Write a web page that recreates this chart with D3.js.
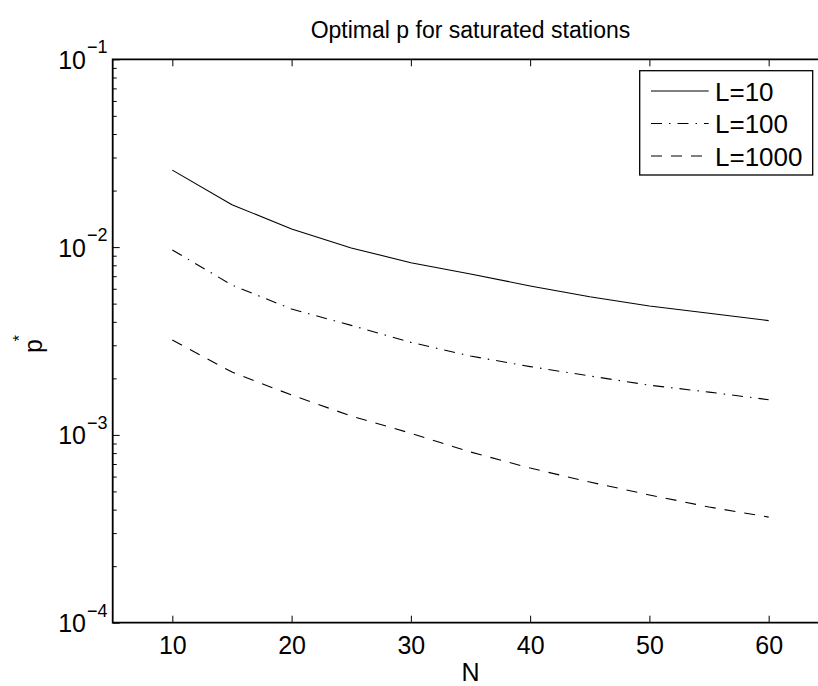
<!DOCTYPE html>
<html>
<head>
<meta charset="utf-8">
<script src="https://cdn.jsdelivr.net/npm/d3@7"></script>
<style>
  body { margin: 0; background: #fff; }
  svg { font-family: "Liberation Sans", Arial, Helvetica, sans-serif; }
</style>
</head>
<body>
<div id="svg-container"></div>
<script>
////////////////////////////////////////////////////////////////////
////////////////////////////  Data  ////////////////////////////////
const nValues = [10, 15, 20, 25, 30, 35, 40, 45, 50, 55, 60];
const pL10 = [0.0257, 0.0168, 0.0125, 0.0099, 0.00826, 0.00719, 0.00621, 0.00544, 0.00486, 0.00444, 0.00406];
const pL100 = [0.00965, 0.00628, 0.00468, 0.00383, 0.00311, 0.00263, 0.00231, 0.00206, 0.00184, 0.00169, 0.00154];
const pL1000 = [0.0032, 0.00216, 0.00163, 0.00126, 0.00102, 0.000811, 0.000666, 0.000561, 0.000479, 0.000413, 0.000365];
const seriesNames = ["L=10", "L=100", "L=1000"];
const xTicks = [10, 20, 30, 40, 50, 60];
const yTicks = [1e-4, 1e-3, 1e-2, 1e-1];
const yTickExp = ["−4", "−3", "−2", "−1"];

////////////////////////////////////////////////////////////////////
////////////////////////////  Init  ///////////////////////////////
const width = 818;
const height = 686;
const plot = { left: 112.7, right: 828.3, top: 59.3, bottom: 622.7 };

const svg = d3.select("#svg-container").append("svg")
  .attr("width", width).attr("height", height);

const xScale = d3.scaleLinear().domain([5, 65]).range([plot.left, plot.right]);
const yScale = d3.scaleLog().domain([1e-4, 1e-1]).range([plot.bottom, plot.top]);

const line = d3.line()
  .x((d) => xScale(d.n))
  .y((d) => yScale(d.p));

const series = [pL10, pL100, pL1000].map((vals, i) => ({
  name: seriesNames[i],
  dash: [null, "11,7,1.5,7", "11,9"][i],
  values: vals.map((p, j) => ({ n: nValues[j], p: p })),
}));

////////////////////////////////////////////////////////////////////
////////////////////////////  Axes  ////////////////////////////////
// bottom & top ticks (pointing inward)
const xAxisB = svg.append("g")
  .attr("transform", `translate(0,${plot.bottom})`)
  .call(d3.axisBottom(xScale).tickValues(xTicks).tickSizeInner(-7).tickSizeOuter(0));
xAxisB.selectAll("text")
  .attr("y", 31.5).attr("dy", 0)
  .attr("font-size", 25).attr("fill", "#000");

svg.append("g")
  .attr("transform", `translate(0,${plot.top})`)
  .call(d3.axisTop(xScale).tickValues(xTicks).tickSizeInner(-7).tickSizeOuter(0).tickFormat(""));

// left: minor + major log ticks
const minor = yScale.ticks().filter((v) => !yTicks.includes(v));
svg.append("g")
  .attr("transform", `translate(${plot.left},0)`)
  .call(d3.axisLeft(yScale).tickValues(minor).tickSizeInner(-4).tickSizeOuter(0).tickFormat(""));

svg.append("g")
  .attr("transform", `translate(${plot.left},0)`)
  .call(d3.axisLeft(yScale).tickValues(yTicks).tickSizeInner(-7).tickSizeOuter(0).tickFormat(""));

svg.selectAll(".domain").remove();
svg.selectAll(".tick line").attr("stroke", "#000").attr("stroke-width", 1);

// y tick labels 10^k
const yLab = svg.append("g").selectAll("g").data(yTicks).join("g")
  .attr("transform", (d) => `translate(0,${yScale(d)})`);
yLab.append("text")
  .attr("x", 86).attr("y", 9.5)
  .attr("text-anchor", "end").attr("font-size", 25)
  .text("10");
yLab.append("text")
  .attr("x", 87).attr("y", -6)
  .attr("text-anchor", "start").attr("font-size", 18)
  .text((d, i) => yTickExp[i]);

// box
svg.append("path")
  .attr("d", `M${plot.right},${plot.top}H${plot.left}V${plot.bottom}H${plot.right}`)
  .attr("fill", "none").attr("stroke", "#000").attr("stroke-width", 1.8);

////////////////////////////////////////////////////////////////////
////////////////////////////  Lines  ///////////////////////////////
svg.append("g").selectAll("path").data(series).join("path")
  .attr("d", (d) => line(d.values))
  .attr("fill", "none")
  .attr("stroke", "#000")
  .attr("stroke-width", 1.1)
  .attr("stroke-dasharray", (d) => d.dash);

////////////////////////////////////////////////////////////////////
////////////////////////////  Labels  //////////////////////////////
svg.append("text")
  .attr("x", (plot.left + plot.right) / 2).attr("y", 38)
  .attr("text-anchor", "middle").attr("font-size", 23)
  .text("Optimal p for saturated stations");

svg.append("text")
  .attr("x", (plot.left + plot.right) / 2).attr("y", 681)
  .attr("text-anchor", "middle").attr("font-size", 25)
  .text("N");

const yTitle = svg.append("text")
  .attr("transform", `translate(42,344) rotate(-90)`)
  .attr("text-anchor", "middle").attr("font-size", 25);
yTitle.append("tspan").text("p");
yTitle.append("tspan").attr("dx", -2).attr("dy", -17).attr("font-size", 16).text("*");

////////////////////////////////////////////////////////////////////
////////////////////////////  Legend  //////////////////////////////
const legend = svg.append("g");
legend.append("rect")
  .attr("x", 639.7).attr("y", 70.7).attr("width", 173).attr("height", 104.3)
  .attr("fill", "#fff").attr("stroke", "#000").attr("stroke-width", 1.3);
const rows = legend.selectAll("g").data(series).join("g")
  .attr("transform", (d, i) => `translate(0,${91 + i * 32.5})`);
rows.append("line")
  .attr("x1", 651).attr("x2", 708.7)
  .attr("stroke", "#000").attr("stroke-width", 1.1)
  .attr("stroke-dasharray", (d) => d.dash);
rows.append("text")
  .attr("x", 715).attr("y", 9.5).attr("font-size", 26)
  .text((d) => d.name);
</script>
</body>
</html>
